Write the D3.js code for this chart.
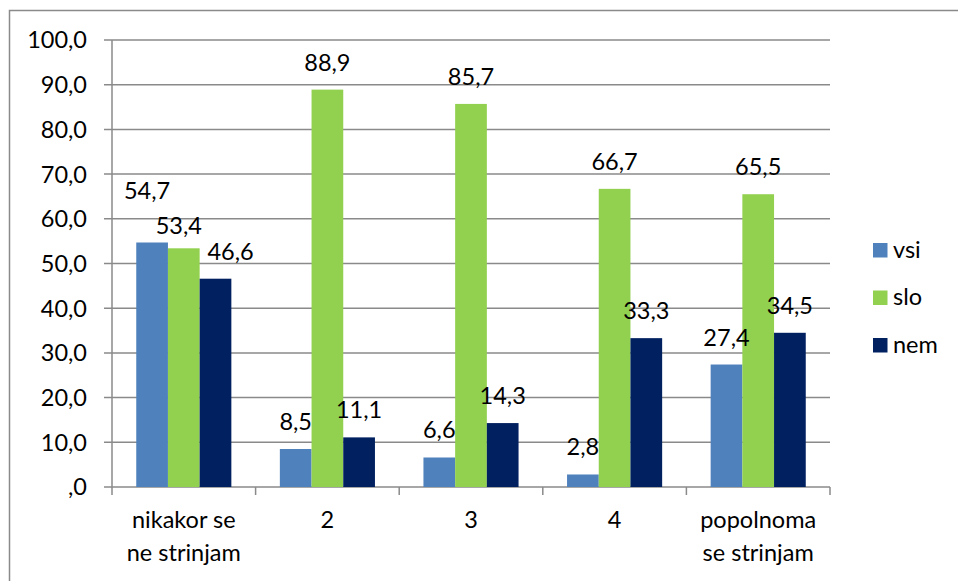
<!DOCTYPE html>
<html>
<head>
<meta charset="utf-8">
<script src="https://cdn.jsdelivr.net/npm/d3@7"></script>
<style>
  html, body { margin: 0; padding: 0; background: #fff; }
  svg { display: block; }
  text { font-family: Lato, "Open Sans", sans-serif; fill: #000; }
</style>
</head>
<body>
<svg id="chart" width="958" height="581"></svg>
<script>
// ---- data ----
const categories = [["nikakor se", "ne strinjam"], ["2"], ["3"], ["4"], ["popolnoma", "se strinjam"]];
const seriesNames = ["vsi", "slo", "nem"];
const vsi = [54.7, 8.5, 6.6, 2.8, 27.4];
const slo = [53.4, 88.9, 85.7, 66.7, 65.5];
const nem = [46.6, 11.1, 14.3, 33.3, 34.5];
const yTicks = [0, 10, 20, 30, 40, 50, 60, 70, 80, 90, 100];

// ---- styles / layout ----
const colors = { vsi: "#4F81BD", slo: "#92D050", nem: "#002060" };
const labelNudge = { "vsi-0": [-5, -24], "slo-0": [-5, 5], "nem-0": [15, 0] };
const fontSize = 23.5;
const margin = { left: 112, right: 128, top: 40, bottom: 94 };
const W = 958, H = 581;

const svg = d3.select("#chart");
const locale = d3.formatLocale({ decimal: ",", thousands: ".", grouping: [3], currency: ["", "€"] });
const fmt = locale.format(".1f");
const tickFmt = v => v === 0 ? ",0" : fmt(v);

// outer border (top & left visible)
svg.append("path")
  .attr("d", `M9.5,${H + 2} V10.5 H${W + 2}`)
  .attr("fill", "none").attr("stroke", "#8a8a8a").attr("stroke-width", 1.5);

const x0 = d3.scaleBand().domain(d3.range(categories.length))
  .range([margin.left, W - margin.right]).paddingInner(0).paddingOuter(0);
const bw = x0.bandwidth();
const x1 = d3.scaleBand().domain(seriesNames).range([0, bw]).paddingInner(0).paddingOuter(0.765);
const y = d3.scaleLinear().domain([0, 100]).range([H - margin.bottom, margin.top]);

const gridColor = "#8a8a8a";

// gridlines + y ticks
const gy = svg.append("g");
gy.selectAll("line.grid").data(yTicks).join("line")
  .attr("x1", margin.left - 8).attr("x2", W - margin.right)
  .attr("y1", d => y(d)).attr("y2", d => y(d))
  .attr("stroke", gridColor).attr("stroke-width", 1.5);
gy.selectAll("text").data(yTicks).join("text")
  .attr("x", 87).attr("y", d => y(d))
  .attr("dy", "0.36em")
  .attr("text-anchor", "end")
  .attr("font-size", fontSize)
  .text(tickFmt);

// y axis line
svg.append("line")
  .attr("x1", margin.left).attr("x2", margin.left)
  .attr("y1", y(100)).attr("y2", y(0))
  .attr("stroke", gridColor).attr("stroke-width", 1.5);

// x axis ticks
const xTickPos = d3.range(categories.length + 1).map(i => i < categories.length ? x0(i) : x0(i - 1) + bw);
svg.selectAll("line.xtick").data(xTickPos).join("line")
  .attr("x1", d => d).attr("x2", d => d)
  .attr("y1", y(0)).attr("y2", y(0) + 8)
  .attr("stroke", gridColor).attr("stroke-width", 1.5);

// bars
const seriesData = { vsi, slo, nem };
const groups = svg.append("g").selectAll("g").data(categories.map((c, i) => i)).join("g")
  .attr("transform", i => `translate(${x0(i)},0)`);

groups.selectAll("rect").data(i => seriesNames.map(s => ({ s, i, v: seriesData[s][i] }))).join("rect")
  .attr("x", d => x1(d.s))
  .attr("width", x1.bandwidth())
  .attr("y", d => y(d.v))
  .attr("height", d => y(0) - y(d.v))
  .attr("fill", d => colors[d.s]);

// bar labels
groups.selectAll("text").data(i => seriesNames.map(s => ({ s, i, v: seriesData[s][i] }))).join("text")
  .attr("x", d => x1(d.s) + x1.bandwidth() / 2 + ((labelNudge[d.s + "-" + d.i] || [0, 0])[0]))
  .attr("y", d => y(d.v) - 19 + ((labelNudge[d.s + "-" + d.i] || [0, 0])[1]))
  .attr("text-anchor", "middle")
  .attr("font-size", fontSize)
  .text(d => fmt(d.v));

// x category labels
const xl = svg.append("g").selectAll("text").data(categories).join("text")
  .attr("x", (c, i) => x0(i) + bw / 2)
  .attr("y", 528)
  .attr("text-anchor", "middle")
  .attr("font-size", fontSize);
xl.selectAll("tspan").data(c => c).join("tspan")
  .attr("x", function() { return d3.select(this.parentNode).attr("x"); })
  .attr("dy", (d, j) => j === 0 ? 0 : 33)
  .text(d => d);

// legend
const lg = svg.append("g").attr("transform", "translate(873,243)");
const li = lg.selectAll("g").data(seriesNames).join("g")
  .attr("transform", (d, i) => `translate(0,${i * 47.5})`);
li.append("rect").attr("width", 14.5).attr("height", 14.5).attr("fill", d => colors[d]);
li.append("text").attr("x", 20).attr("y", 14.5).attr("font-size", fontSize).text(d => d);
</script>
</body>
</html>
